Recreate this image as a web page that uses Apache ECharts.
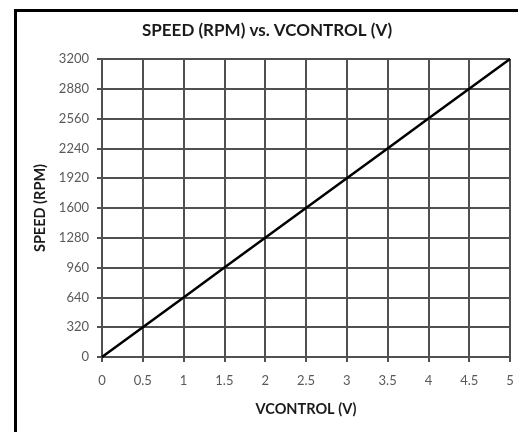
<!DOCTYPE html>
<html>
<head>
<meta charset="utf-8">
<script src="https://cdn.jsdelivr.net/npm/echarts@6/dist/echarts.min.js"></script>
<style>html,body{margin:0;padding:0;background:#fff;}#c{width:518px;height:432px;}</style>
</head>
<body>
<div id="c"></div>
<script>
var vcontrol = [0, 0.5, 1, 1.5, 2, 2.5, 3, 3.5, 4, 4.5, 5];
var speed = [0, 320, 640, 960, 1280, 1600, 1920, 2240, 2560, 2880, 3200];
var xTicks = {min: 0, max: 5, interval: 0.5};
var yTicks = {min: 0, max: 3200, interval: 320};

var chart = echarts.init(document.getElementById('c'), null, {renderer: 'canvas'});
var fontFam = 'Lato, "Open Sans", sans-serif';
var gridColor = '#505050';
chart.setOption({
  animation: false,
  backgroundColor: '#fff',
  graphic: [{
    type: 'rect', left: 13, top: 8, z: -1,
    shape: {width: 520, height: 440},
    style: {fill: 'none', stroke: '#000', lineWidth: 3}
  }],
  title: {
    text: 'SPEED (RPM) vs. VCONTROL (V)',
    left: 142, top: 22,
    padding: 0,
    textStyle: {fontFamily: fontFam, fontWeight: 'bold', fontSize: 17, color: '#1a1a1a'}
  },
  grid: {left: 102, right: 8, top: 59, bottom: 75, containLabel: false},
  xAxis: {
    type: 'value', min: xTicks.min, max: xTicks.max, interval: xTicks.interval,
    name: 'VCONTROL (V)', nameLocation: 'middle', nameGap: 45,
    nameTextStyle: {fontFamily: fontFam, fontWeight: 'bold', fontSize: 14.5, color: '#1a1a1a'},
    axisLine: {show: true, lineStyle: {color: gridColor, width: 2}},
    axisTick: {show: true, length: 5, lineStyle: {color: gridColor, width: 2}},
    axisLabel: {margin: 17, fontFamily: fontFam, fontSize: 13, color: '#595959',
      formatter: function (v) { return String(v); }},
    splitLine: {show: true, lineStyle: {color: gridColor, width: 2}}
  },
  yAxis: {
    type: 'value', min: yTicks.min, max: yTicks.max, interval: yTicks.interval,
    name: 'SPEED (RPM)', nameLocation: 'middle', nameGap: 54,
    nameTextStyle: {fontFamily: fontFam, fontWeight: 'bold', fontSize: 14.5, color: '#1a1a1a'},
    axisLine: {show: true, lineStyle: {color: gridColor, width: 2}},
    axisTick: {show: true, length: 5, lineStyle: {color: gridColor, width: 2}},
    axisLabel: {margin: 13, fontFamily: fontFam, fontSize: 13, color: '#595959',
      formatter: function (v) { return String(v); }},
    splitLine: {show: true, lineStyle: {color: gridColor, width: 2}}
  },
  series: [{
    type: 'line',
    data: vcontrol.map(function (v, i) { return [v, speed[i]]; }),
    showSymbol: false,
    lineStyle: {color: '#000', width: 2.5},
    z: 5
  }]
});
</script>
</body>
</html>
